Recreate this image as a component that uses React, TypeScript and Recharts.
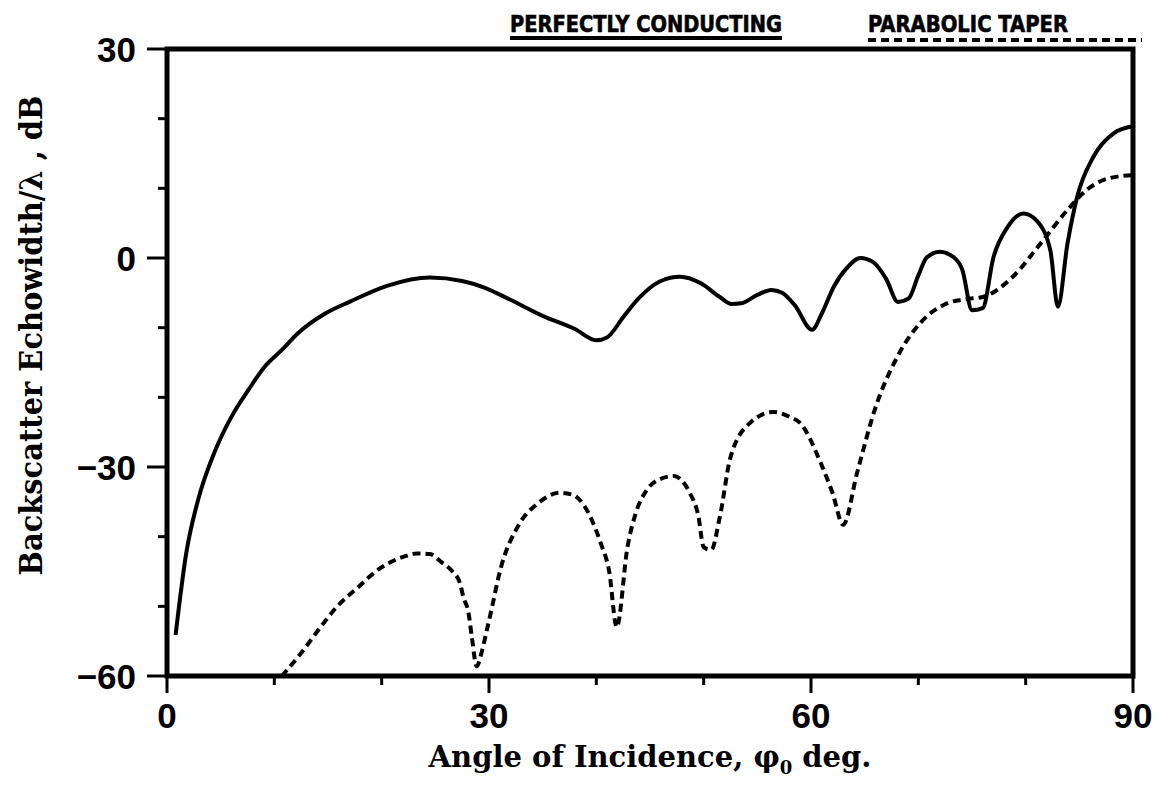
import React from 'react';
import { LineChart, Line, XAxis, YAxis, ReferenceArea, Legend, Label } from 'recharts';

// Backscatter echowidth (dB re. wavelength) versus angle of incidence
const conductingAngles = [
  0.8, 1.8, 2.9, 4.5, 6, 7.6, 9.1, 10.7, 12.2, 14.7, 17, 20.5, 24.5, 27.5, 29.5, 32, 35, 38, 40, 41,
  42.5, 44, 46, 47.8, 49.7, 51.5, 52.6, 53.5, 55, 56.3, 57.3, 58.5, 60.1, 61, 62.1, 63.3, 64.6, 65.8,
  67, 68.1, 69.1, 70, 70.8, 72, 73.3, 74.1, 75, 76, 77, 78.3, 79.8, 81, 82.3, 83, 83.9, 84.8, 86.3,
  88.2, 90,
];
const conductingEchowidth = [
  -54.1, -42.3, -34.7, -27.6, -22.8, -18.9, -15.6, -13.2, -10.8, -8.0, -6.3, -4.0, -2.8, -3.3, -4.2,
  -6.0, -8.3, -10.2, -11.8, -11.4, -8.5, -5.7, -3.3, -2.7, -3.6, -5.6, -6.6, -6.5, -5.3, -4.6, -5.0,
  -6.8, -10.3, -8.0, -4.2, -1.5, 0, -0.6, -3.0, -6.3, -5.8, -2.5, 0.1, 0.9, 0.1, -1.7, -7.5, -7.2,
  0.1, 4.4, 6.4, 5.4, 1.1, -7.0, 2.1, 8.8, 14.5, 17.9, 18.9,
];

const taperAngles = [
  10.7, 12.5, 14.2, 15.8, 17.7, 19.7, 22, 23.3, 24.5, 25.6, 26.6, 27.3, 27.6, 28.1, 28.4, 28.85,
  29.3, 29.8, 30.3, 30.9, 32.9, 34.5, 36.6, 37.8, 38.8, 40.4, 41.2, 41.9, 42.9, 43.7, 44.7, 46, 47.2,
  48.7, 49.5, 50, 50.7, 51.5, 52.5, 54.3, 56.5, 58, 59, 60.9, 62, 63, 64.3, 66, 68, 70.2, 72.7, 74.5,
  76, 78.8, 81.4, 83.9, 85.7, 87.9, 90,
];
const taperEchowidth = [
  -60, -56.7, -53.2, -50.1, -47.4, -44.7, -42.9, -42.4, -42.5, -43.7, -45.0, -46.7, -48.6, -51.0,
  -54.4, -58.6, -56.7, -53.4, -50.0, -45.7, -38, -35.3, -33.7, -34, -35.4, -40.9, -45, -53, -41.5,
  -36.5, -33.3, -31.7, -31.3, -33.7, -37, -41.5, -41.9, -37.2, -28.6, -23.7, -22.1, -22.8, -23.7,
  -29.4, -33.7, -38.3, -30.8, -21.5, -14.3, -9.3, -6.5, -5.9, -5.6, -2.7, 2.1, 6.9, 9.8, 11.5, 11.9,
];

const seriesNames = ['PERFECTLY CONDUCTING', 'PARABOLIC TAPER'];

const xTicks = [0, 10, 20, 30, 40, 50, 60, 70, 80, 90];
const xTickLabels = [0, 30, 60, 90];
const yTicks = [-60, -50, -40, -30, -20, -10, 0, 10, 20, 30];
const yTickLabels = [-60, -30, 0, 30];

const conductingData = conductingAngles.map((angle, i) => ({ angle, value: conductingEchowidth[i] }));
const taperData = taperAngles.map((angle, i) => ({ angle, value: taperEchowidth[i] }));

const W = 1161;
const H = 789;
const TICK_FONT = "'Liberation Sans', Arial, Helvetica, sans-serif";
const TITLE_FONT = "'DejaVu Serif', 'Liberation Serif', serif";
const LEGEND_FONT = "'DejaVu Sans Condensed', 'DejaVu Sans', sans-serif";

const fmt = (v: number) => (v < 0 ? `\u2212${Math.abs(v)}` : `${v}`);

const XTick = (props: any) => {
  const { x, y, payload } = props;
  const v = payload.value;
  const major = xTickLabels.includes(v);
  return (
    <g>
      <line x1={x} x2={x} y1={y} y2={y + (major ? 17 : 9)} stroke="#000" strokeWidth={3} />
      {major && (
        <text x={x} y={y + 52} textAnchor="middle" fontFamily={TICK_FONT} fontWeight="bold" fontSize={35} fill="#000">
          {fmt(v)}
        </text>
      )}
    </g>
  );
};

const YTick = (props: any) => {
  const { x, y, payload } = props;
  const v = payload.value;
  const major = yTickLabels.includes(v);
  return (
    <g>
      <line x1={x} x2={x - (major ? 20 : 9)} y1={y} y2={y} stroke="#000" strokeWidth={3} />
      {major && (
        <text x={x - 31} y={y + 12.5} textAnchor="end" fontFamily={TICK_FONT} fontWeight="bold" fontSize={35} fill="#000">
          {fmt(v)}
        </text>
      )}
    </g>
  );
};

// Legend entries sit above the frame: label with a sample line underneath
const legendLayout: Record<string, { x: number; textWidth: number; lineEnd: number; lineY: number }> = {
  [seriesNames[0]]: { x: 510, textWidth: 272, lineEnd: 782, lineY: 38 },
  [seriesNames[1]]: { x: 868, textWidth: 200, lineEnd: 1142, lineY: 40 },
};

const LegendContent = (props: any) => {
  const payload = props.payload || [];
  return (
    <svg width={W} height={49} style={{ display: 'block' }}>
      {payload.map((entry: any) => {
        const l = legendLayout[entry.value];
        if (!l) return null;
        const dash = entry.payload?.strokeDasharray;
        return (
          <g key={entry.value}>
            <text
              x={l.x}
              y={32}
              fontFamily={LEGEND_FONT}
              fontWeight="bold"
              fontSize={23}
              stroke="#000"
              strokeWidth={0.6}
              textLength={l.textWidth}
              lengthAdjust="spacingAndGlyphs"
              fill="#000"
            >
              {entry.value}
            </text>
            <line x1={l.x} x2={l.lineEnd} y1={l.lineY} y2={l.lineY} stroke="#000" strokeWidth={4} strokeDasharray={dash} />
          </g>
        );
      })}
    </svg>
  );
};

const XTitle = (props: any) => {
  const vb = props.viewBox || { x: 0, y: 0, width: 0 };
  const cx = vb.x + vb.width / 2;
  return (
    <text
      x={cx}
      y={vb.y + 91}
      textAnchor="middle"
      fontFamily={TITLE_FONT}
      fontWeight="bold"
      fontSize={29}
      fill="#000"
    >
      Angle of Incidence, φ
      <tspan fontSize={18} dy={7}>0</tspan>
      <tspan dy={-7}> deg.</tspan>
    </text>
  );
};

const YTitle = (props: any) => {
  const vb = props.viewBox || { x: 0, y: 0, height: 0 };
  const cy = vb.y + vb.height / 2 - 27;
  return (
    <text
      transform={`translate(42, ${cy}) rotate(-90)`}
      textAnchor="middle"
      fontFamily={TITLE_FONT}
      fontWeight="bold"
      fontSize={31}
      textLength={480}
      lengthAdjust="spacingAndGlyphs"
      fill="#000"
    >
      Backscatter Echowidth/λ , dB
    </text>
  );
};

export default function App() {
  return (
    <div style={{ position: 'absolute', left: 0, top: 0, width: W, height: H, background: '#fff' }}>
      <LineChart width={W} height={H} margin={{ top: 49, right: 28, bottom: 103, left: 157 }}>
        <XAxis
          dataKey="angle"
          type="number"
          domain={[0, 90]}
          ticks={xTicks}
          interval={0}
          axisLine={false}
          tickLine={false}
          tickSize={0}
          tickMargin={0}
          height={10}
          tick={<XTick />}
          allowDuplicatedCategory={false}
        >
          <Label content={<XTitle />} />
        </XAxis>
        <YAxis
          type="number"
          domain={[-60, 30]}
          ticks={yTicks}
          interval={0}
          axisLine={false}
          tickLine={false}
          tickSize={0}
          tickMargin={0}
          width={10}
          tick={<YTick />}
        >
          <Label content={<YTitle />} />
        </YAxis>
        <Legend
          verticalAlign="middle"
          align="center"
          layout="horizontal"
          wrapperStyle={{ position: 'absolute', top: 0, left: 0, width: W, height: 49 }}
          content={<LegendContent />}
        />
        <Line
          data={conductingData}
          dataKey="value"
          name={seriesNames[0]}
          type="monotone"
          stroke="#000"
          strokeWidth={4}
          dot={false}
          activeDot={false}
          isAnimationActive={false}
        />
        <Line
          data={taperData}
          dataKey="value"
          name={seriesNames[1]}
          type="monotone"
          stroke="#000"
          strokeWidth={4}
          strokeDasharray="8 5"
          dot={false}
          activeDot={false}
          isAnimationActive={false}
        />
        <ReferenceArea
          x1={0}
          x2={90}
          y1={-60}
          y2={30}
          fill="none"
          stroke="#000"
          strokeWidth={5}
          ifOverflow="visible"
        />
      </LineChart>
    </div>
  );
}
